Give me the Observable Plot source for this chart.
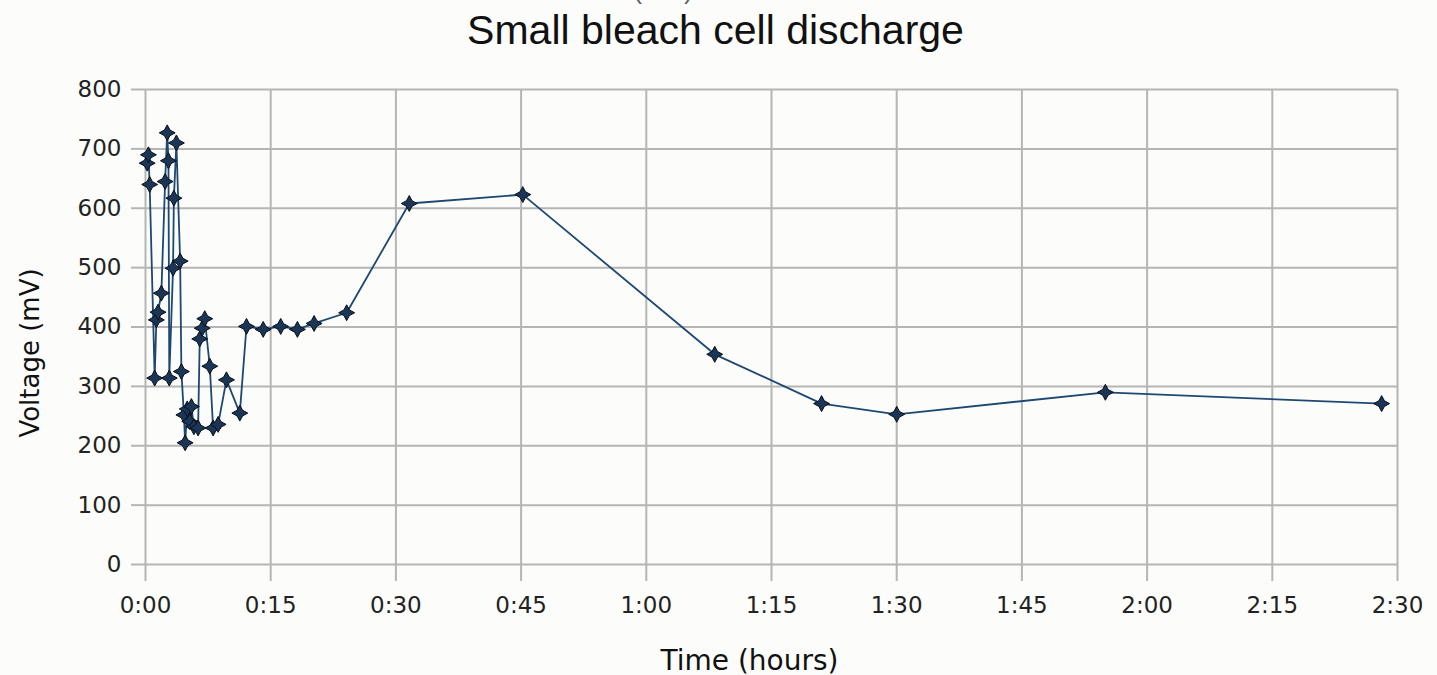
<!DOCTYPE html>
<html>
<head>
<meta charset="utf-8">
<script src="https://cdn.jsdelivr.net/npm/d3@7"></script>
<script src="https://cdn.jsdelivr.net/npm/@observablehq/plot@0.6"></script>
<style>
  html, body { margin: 0; padding: 0; background: #fcfdfb; overflow: hidden; }
  #wrap { position: relative; width: 1437px; height: 675px; overflow: hidden; }
  #ghost { position: absolute; left: 0; width: 1437px; top: -27px; text-align: center; padding-right: 212px; box-sizing: border-box;
           font-family: "Liberation Sans", Arial, sans-serif; font-size: 28px; color: #666; }
  #title { height: 60px; line-height: 60px; text-align: center; font-family: "Liberation Sans", Arial, sans-serif;
           font-size: 41px; color: #111; padding-right: 6px; box-sizing: border-box; }
  svg { display: block; }
</style>
</head>
<body>
<div id="wrap">
  <div id="ghost">Current (mA)</div>
  <div id="title">Small bleach cell discharge</div>
  <div id="chart"></div>
</div>
<script>
// time in minutes since start
const timeMin = [0.2, 0.35, 0.5, 1.1, 1.3, 1.5, 1.9, 2.35, 2.6, 2.75, 2.85, 3.3, 3.4, 3.7, 4.15, 4.3, 4.6, 4.75, 5.0, 5.3, 5.5, 5.8, 6.3, 6.5, 6.8, 7.1, 7.7, 8.1, 8.7, 9.7, 11.3, 12.1, 14.1, 16.2, 18.2, 20.2, 24.1, 31.6, 45.2, 68.2, 81.0, 90.0, 115.0, 148.1];
const voltage = [676, 690, 640, 314, 412, 425, 457, 645, 727, 680, 314, 499, 617, 710, 511, 325, 252, 205, 262, 241, 266, 232, 230, 380, 398, 414, 334, 230, 236, 311, 255, 401, 396, 401, 396, 406, 424, 608, 623, 354, 271, 253, 290, 271];
const xTicks = [0, 15, 30, 45, 60, 75, 90, 105, 120, 135, 150];
const yTicks = [0, 100, 200, 300, 400, 500, 600, 700, 800];

const data = timeMin.map((t, i) => ({t, v: voltage[i]}));
const fmt = m => `${Math.floor(m / 60)}:${String(m % 60).padStart(2, "0")}`;

// 4-point star marker
const star4 = {
  draw(ctx, size) {
    const r = Math.sqrt(size) * 0.75, k = r * 0.35;
    ctx.moveTo(0, -r);
    ctx.lineTo(k, -k);
    ctx.lineTo(r, 0);
    ctx.lineTo(k, k);
    ctx.lineTo(0, r);
    ctx.lineTo(-k, k);
    ctx.lineTo(-r, 0);
    ctx.lineTo(-k, -k);
    ctx.closePath();
  }
};

const grid = "#b5b5b5";
const chart = Plot.plot({
  width: 1437,
  height: 615,
  marginLeft: 145,
  marginRight: 40,
  marginTop: 29,
  marginBottom: 111,
  style: {fontFamily: "'DejaVu Sans', sans-serif", fontSize: "23px", background: "#fcfdfb", color: "#222"},
  x: {domain: [0, 150], ticks: xTicks, tickFormat: fmt},
  y: {domain: [0, 800], ticks: yTicks},
  marks: [
    Plot.gridY(yTicks, {stroke: grid, strokeOpacity: 1, strokeWidth: 2}),
    Plot.gridX(xTicks, {stroke: grid, strokeOpacity: 1, strokeWidth: 2}),
    Plot.axisY(yTicks, {tickSize: 14, stroke: grid, strokeWidth: 2, tickPadding: 10, fill: "#222", label: null}),
    Plot.axisX(xTicks, {tickSize: 17, stroke: grid, strokeWidth: 2, tickPadding: 15, tickFormat: fmt, fill: "#222", label: null}),
    Plot.text(["Voltage (mV)"], {frameAnchor: "left", textAnchor: "middle", dx: -115, dy: 26, rotate: -90, fontSize: 26, fill: "#111"}),
    Plot.text(["Time (hours)"], {frameAnchor: "bottom", dy: 105, dx: -22, fontSize: 28, fill: "#111"}),
    Plot.line(data, {x: "t", y: "v", stroke: "#1d4872", strokeWidth: 1.8}),
    Plot.dot(data, {x: "t", y: "v", symbol: star4, r: 6, fill: "#1a3556", stroke: "#0a0f18", strokeWidth: 1})
  ]
});
document.getElementById("chart").appendChild(chart);
</script>
</body>
</html>
